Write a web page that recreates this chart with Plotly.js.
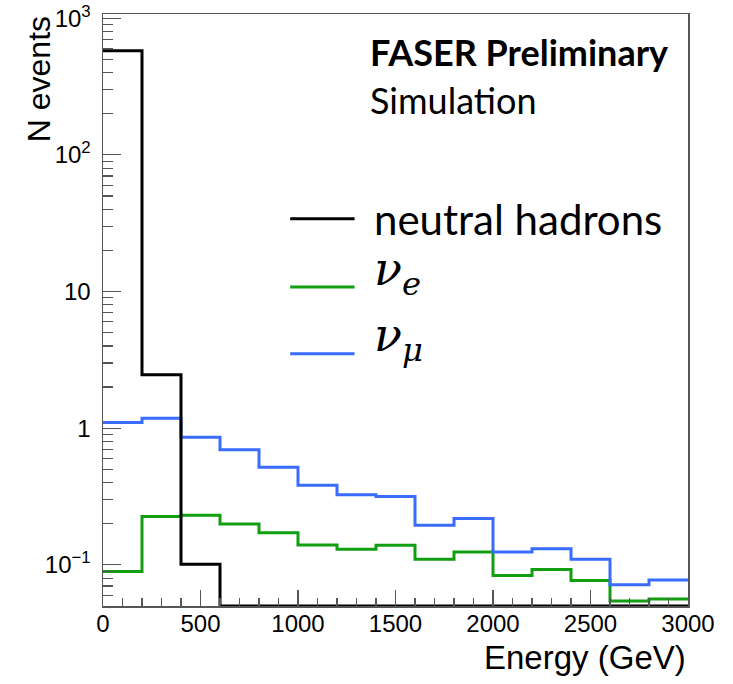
<!DOCTYPE html>
<html>
<head>
<meta charset="utf-8">
<script src="https://cdn.plot.ly/plotly-3.0.1.min.js"></script>
<style>html,body{margin:0;padding:0;background:#fff;}#chart{width:733px;height:684px;}</style>
</head>
<body>
<div id="chart"></div>
<script>
// Bin edges (GeV), 200 GeV bins
const binEdges = [0,200,400,600,800,1000,1200,1400,1600,1800,2000,2200,2400,2600,2800,3000];
const neutralHadrons = [577, 2.46, 0.101, 0, 0, 0, 0, 0, 0, 0, 0, 0, 0, 0, 0];
const nuE  = [0.0895, 0.226, 0.231, 0.199, 0.172, 0.140, 0.130, 0.139, 0.110, 0.124, 0.0836, 0.0925, 0.0769, 0.0543, 0.0562];
const nuMu = [1.10, 1.185, 0.86, 0.695, 0.519, 0.383, 0.326, 0.316, 0.195, 0.218, 0.124, 0.131, 0.110, 0.0715, 0.0775];
const yTickVals = [0.1, 1, 10, 100, 1000];
const yTickText = ['10<sup>\u22121</sup>', '1', '10', '10<sup>2</sup>', '10<sup>3</sup>'];
const xTickVals = [0,500,1000,1500,2000,2500,3000];

const yMin = 0.05, yMaxLog = 3.031;

function histTrace(vals, color, name) {
  // ROOT-style: empty bins drawn at the axis floor
  const y = vals.map(v => v > 0 ? v : yMin);
  y.push(y[y.length-1]);
  return {x: binEdges, y: y, mode: 'lines', line: {shape: 'hv', color: color, width: 3}, name: name, showlegend: false, cliponaxis: true, hoverinfo: 'skip'};
}

const colors = {black: '#000000', green: '#119f11', blue: '#3a6cff'};
const traces = [
  histTrace(nuE, colors.green, 'nu_e'),
  histTrace(nuMu, colors.blue, 'nu_mu'),
  histTrace(neutralHadrons, colors.black, 'neutral hadrons')
];

const minorY = [];
for (let d = -2; d <= 3; d++) for (let k = 2; k <= 9; k++) minorY.push(k * Math.pow(10, d));

const axisFont = {family: 'Liberation Sans, Arial, sans-serif', size: 24, color: '#000'};
const layout = {
  width: 733, height: 684,
  margin: {l: 103, r: 45, t: 14, b: 78},
  paper_bgcolor: '#fff', plot_bgcolor: '#fff',
  xaxis: {
    range: [0, 3000], showgrid: false, zeroline: false,
    showline: true, mirror: true, linecolor: '#555', linewidth: 1.5,
    ticks: 'inside', ticklen: 16, tickcolor: '#555', tickwidth: 1.2,
    tickmode: 'array', tickvals: xTickVals, ticktext: xTickVals.map(String),
    tickfont: axisFont, ticklabelstandoff: -4,
    minor: {ticks: 'inside', ticklen: 8, tickcolor: '#555', tickwidth: 1.2, dtick: 100, showgrid: false}
  },
  yaxis: {
    type: 'log', range: [Math.log10(yMin), yMaxLog], showgrid: false, zeroline: false,
    showline: true, mirror: true, linecolor: '#555', linewidth: 1.5,
    ticks: 'inside', ticklen: 18, tickcolor: '#555', tickwidth: 1.2,
    tickmode: 'array', tickvals: yTickVals, ticktext: yTickText,
    tickfont: axisFont, ticklabelstandoff: 6,
    minor: {ticks: 'inside', ticklen: 10, tickcolor: '#555', tickwidth: 1.2, tickmode: 'array', tickvals: minorY, showgrid: false}
  },
  shapes: [
    {type: 'line', xref: 'paper', yref: 'paper', x0: 0.32, x1: 0.43, y0: 0.654, y1: 0.654, line: {color: colors.black, width: 3}},
    {type: 'line', xref: 'paper', yref: 'paper', x0: 0.32, x1: 0.43, y0: 0.539, y1: 0.539, line: {color: colors.green, width: 3}},
    {type: 'line', xref: 'paper', yref: 'paper', x0: 0.32, x1: 0.43, y0: 0.426, y1: 0.426, line: {color: colors.blue, width: 3}}
  ],
  annotations: [
    {text: '<b>FASER Preliminary</b>', xref: 'paper', yref: 'paper', x: 0.453, y: 0.936, xanchor: 'left', yanchor: 'middle', showarrow: false, font: {family: 'Lato, sans-serif', size: 36, color: '#000'}},
    {text: 'Simulation', xref: 'paper', yref: 'paper', x: 0.453, y: 0.855, xanchor: 'left', yanchor: 'middle', showarrow: false, font: {family: 'Lato, sans-serif', size: 36, color: '#000'}},
    {text: 'neutral hadrons', xref: 'paper', yref: 'paper', x: 0.46, y: 0.653, xanchor: 'left', yanchor: 'middle', showarrow: false, font: {family: 'Lato, sans-serif', size: 42, color: '#000'}},
    {text: '<i>\u03bd<sub>e</sub></i>', xref: 'paper', yref: 'paper', x: 0.46, y: 0.564, xanchor: 'left', yanchor: 'middle', showarrow: false, font: {family: 'DejaVu Serif, serif', size: 46, color: '#000'}},
    {text: '<i>\u03bd<sub>\u03bc</sub></i>', xref: 'paper', yref: 'paper', x: 0.46, y: 0.452, xanchor: 'left', yanchor: 'middle', showarrow: false, font: {family: 'DejaVu Serif, serif', size: 46, color: '#000'}},
    {text: 'N events', xref: 'paper', yref: 'paper', x: -0.109, y: 1.0, xanchor: 'center', yanchor: 'top', textangle: -90, showarrow: false, font: {family: 'Liberation Sans, Arial, sans-serif', size: 32, color: '#000'}},
    {text: 'Energy (GeV)', xref: 'paper', yref: 'paper', x: 1.0, y: -0.087, xanchor: 'right', yanchor: 'middle', showarrow: false, font: {family: 'Liberation Sans, Arial, sans-serif', size: 33, color: '#000'}}
  ]
};

Plotly.newPlot('chart', traces, layout, {displayModeBar: false, staticPlot: true});
</script>
</body>
</html>
